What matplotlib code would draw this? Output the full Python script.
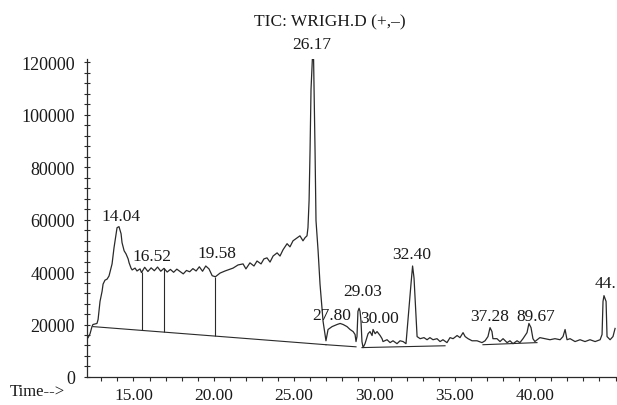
import numpy as np
import matplotlib
matplotlib.use("Agg")
import matplotlib.pyplot as plt
from matplotlib.ticker import MultipleLocator

plt.rcParams['font.family'] = ['Liberation Serif', 'DejaVu Serif']

# cromatograma TIC: tiempo (min) y abundancia
tiempo = [12.11, 12.18, 12.30, 12.42, 12.48, 12.73, 12.80, 12.92, 13.05, 13.11, 13.23, 13.36, 13.48,
          13.60, 13.67, 13.79, 13.92, 13.98, 14.10, 14.23, 14.29, 14.42, 14.54, 14.67, 14.73, 14.85,
          14.92, 15.10, 15.22, 15.41, 15.50, 15.70, 15.90, 16.10, 16.30, 16.50, 16.70, 16.90, 17.10,
          17.30, 17.50, 17.70, 17.90, 18.10, 18.30, 18.50, 18.70, 18.90, 19.10, 19.30, 19.50, 19.70,
          19.90, 20.10, 20.39, 20.70, 21.20, 21.51, 21.82, 22.00, 22.25, 22.50, 22.69, 22.94, 23.12,
          23.31, 23.50, 23.69, 23.94, 24.12, 24.31, 24.56, 24.74, 24.93, 25.11, 25.36, 25.55, 25.68,
          25.80, 25.86, 25.93, 25.99, 26.05, 26.14, 26.21, 26.24, 26.30, 26.36, 26.49, 26.61, 26.80,
          26.98, 27.11, 27.36, 27.67, 27.86, 28.05, 28.29, 28.48, 28.67, 28.79, 28.85, 28.91, 28.97,
          29.04, 29.10, 29.16, 29.22, 29.29, 29.41, 29.60, 29.72, 29.85, 29.91, 30.04, 30.16, 30.35,
          30.47, 30.53, 30.78, 30.97, 31.15, 31.40, 31.59, 31.78, 31.96, 32.09, 32.27, 32.37, 32.46,
          32.59, 32.65, 32.84, 33.08, 33.27, 33.45, 33.64, 33.89, 34.08, 34.26, 34.51, 34.70, 34.89,
          35.14, 35.32, 35.51, 35.64, 35.82, 36.07, 36.38, 36.69, 36.88, 37.06, 37.19, 37.31, 37.37,
          37.62, 37.81, 38.00, 38.25, 38.43, 38.62, 38.87, 39.05, 39.24, 39.49, 39.61, 39.74, 39.86,
          39.98, 40.29, 40.61, 40.92, 41.23, 41.55, 41.73, 41.86, 41.98, 42.17, 42.48, 42.79, 43.10,
          43.41, 43.73, 44.04, 44.16, 44.22, 44.28, 44.41, 44.47, 44.66, 44.84, 44.97]
abundancia = [14600, 15000, 16500, 19200, 20000, 20400, 21900, 28800, 32700, 35400, 36900, 37300, 38500,
              41500, 43100, 49200, 54600, 56900, 57300, 54600, 51200, 48100, 46900, 45000, 43500, 41500,
              40800, 41500, 40400, 41200, 39800, 41800, 40200, 41600, 40500, 41900, 40300, 41400, 40000,
              41000, 39900, 41100, 40200, 39300, 40600, 40100, 41300, 40400, 42000, 40300, 42300, 41200,
              38600, 38200, 39600, 40400, 41500, 42700, 43100, 41200, 43500, 42300, 44200, 43100, 45000,
              45400, 43800, 46100, 47300, 46100, 48500, 50800, 49600, 51900, 52700, 53800, 51900, 53100,
              53800, 56900, 67300, 86500, 109600, 122000, 121000, 109600, 86500, 59600, 48100, 35400, 21200,
              13800, 18100, 19200, 20000, 20400, 20000, 19200, 18100, 17300, 16200, 13500, 15400, 25000,
              26200, 25000, 21200, 13500, 11200, 12700, 16500, 17300, 15800, 18100, 16500, 17300, 15800,
              14600, 13500, 14200, 13100, 13800, 12700, 13800, 13500, 12700, 22300, 35400, 42300, 37700,
              22300, 15400, 14600, 15000, 14200, 15000, 14200, 14600, 13500, 14200, 13100, 15000, 14600,
              15800, 15000, 16900, 15400, 14600, 13800, 13800, 13100, 13800, 15400, 18800, 17300, 14600,
              14600, 13500, 14600, 13100, 13800, 12700, 13800, 13100, 14600, 16900, 20400, 18800, 14600,
              13500, 15000, 14600, 14200, 14600, 14200, 15400, 18100, 14200, 14600, 13500, 14200, 13500,
              14200, 13500, 14200, 16200, 28800, 31000, 28800, 15400, 14200, 15400, 18500]

# lineas base de integracion
base_t = [[12.48, 26.98], [26.98, 28.85], [29.22, 34.39], [36.75, 40.11]]
base_i = [[19200, 12300], [12300, 11500], [11200, 11900], [12300, 13100]]

# cortes verticales entre picos
cortes = [15.54, 16.90, 20.07]

# etiquetas de picos
etiquetas = ['14.04', '16.52', '19.58', '26.17', '27.80', '29.03', '30.00', '32.40', '37.28', '89.67', '44.']
etiq_t = [14.23, 16.15, 20.20, 26.11, 27.35, 29.28, 30.34, 32.33, 37.19, 40.05, 43.72]
etiq_i = [61500, 46200, 47300, 126900, 23800, 32700, 22300, 46900, 23100, 23100, 35800]

xticks = [15, 20, 25, 30, 35, 40]
yticks = [0, 20000, 40000, 60000, 80000, 100000, 120000]

color = '#2a2a2a'
fig = plt.figure(figsize=(6.17, 4.06), dpi=100)
ax = fig.add_axes([0.141, 0.069, 0.859, 0.782])

ax.plot(tiempo, abundancia, color=color, lw=0.9)
for bt, bi in zip(base_t, base_i):
    ax.plot(bt, bi, color=color, lw=0.8)

techo = np.interp(cortes, tiempo, abundancia)
piso = np.interp(cortes, base_t[0], base_i[0])
ax.vlines(cortes, piso, techo, color=color, lw=0.8)

for txt, t, i in zip(etiquetas, etiq_t, etiq_i):
    ha = 'left' if txt == '44.' else 'center'
    ax.text(t, i, txt, ha=ha, va='center', fontsize=12.5, color='#1a1a1a', clip_on=False)

ax.set_xlim(12.11, 45.09)
ax.set_ylim(0, 121000)
ax.set_xticks(xticks)
ax.set_xticklabels([f'{v:.2f}' for v in xticks])
ax.set_yticks(yticks)
ax.set_yticklabels([str(v) for v in yticks])
ax.xaxis.set_minor_locator(MultipleLocator(1))
ax.yaxis.set_minor_locator(MultipleLocator(4000))

for s in ['top', 'right']:
    ax.spines[s].set_visible(False)
for s in ['left', 'bottom']:
    ax.spines[s].set_color(color)
    ax.spines[s].set_linewidth(0.9)

ax.tick_params(axis='x', which='both', direction='out', length=3, width=0.8, color=color,
               pad=4, labelsize=12.5, labelcolor='#1a1a1a')
ax.tick_params(axis='y', which='both', direction='inout', length=5, width=0.8, color=color,
               pad=6, labelsize=13, labelcolor='#1a1a1a')

fig.text(0.535, 0.946, 'TIC: WRIGH.D (+,–)', ha='center', va='center', fontsize=12.5, color='#1a1a1a')
fig.text(0.016, 1 - 392 / 406, 'Time-->', ha='left', va='center', fontsize=12, color='#1a1a1a')

plt.savefig('out.png', dpi=100)
